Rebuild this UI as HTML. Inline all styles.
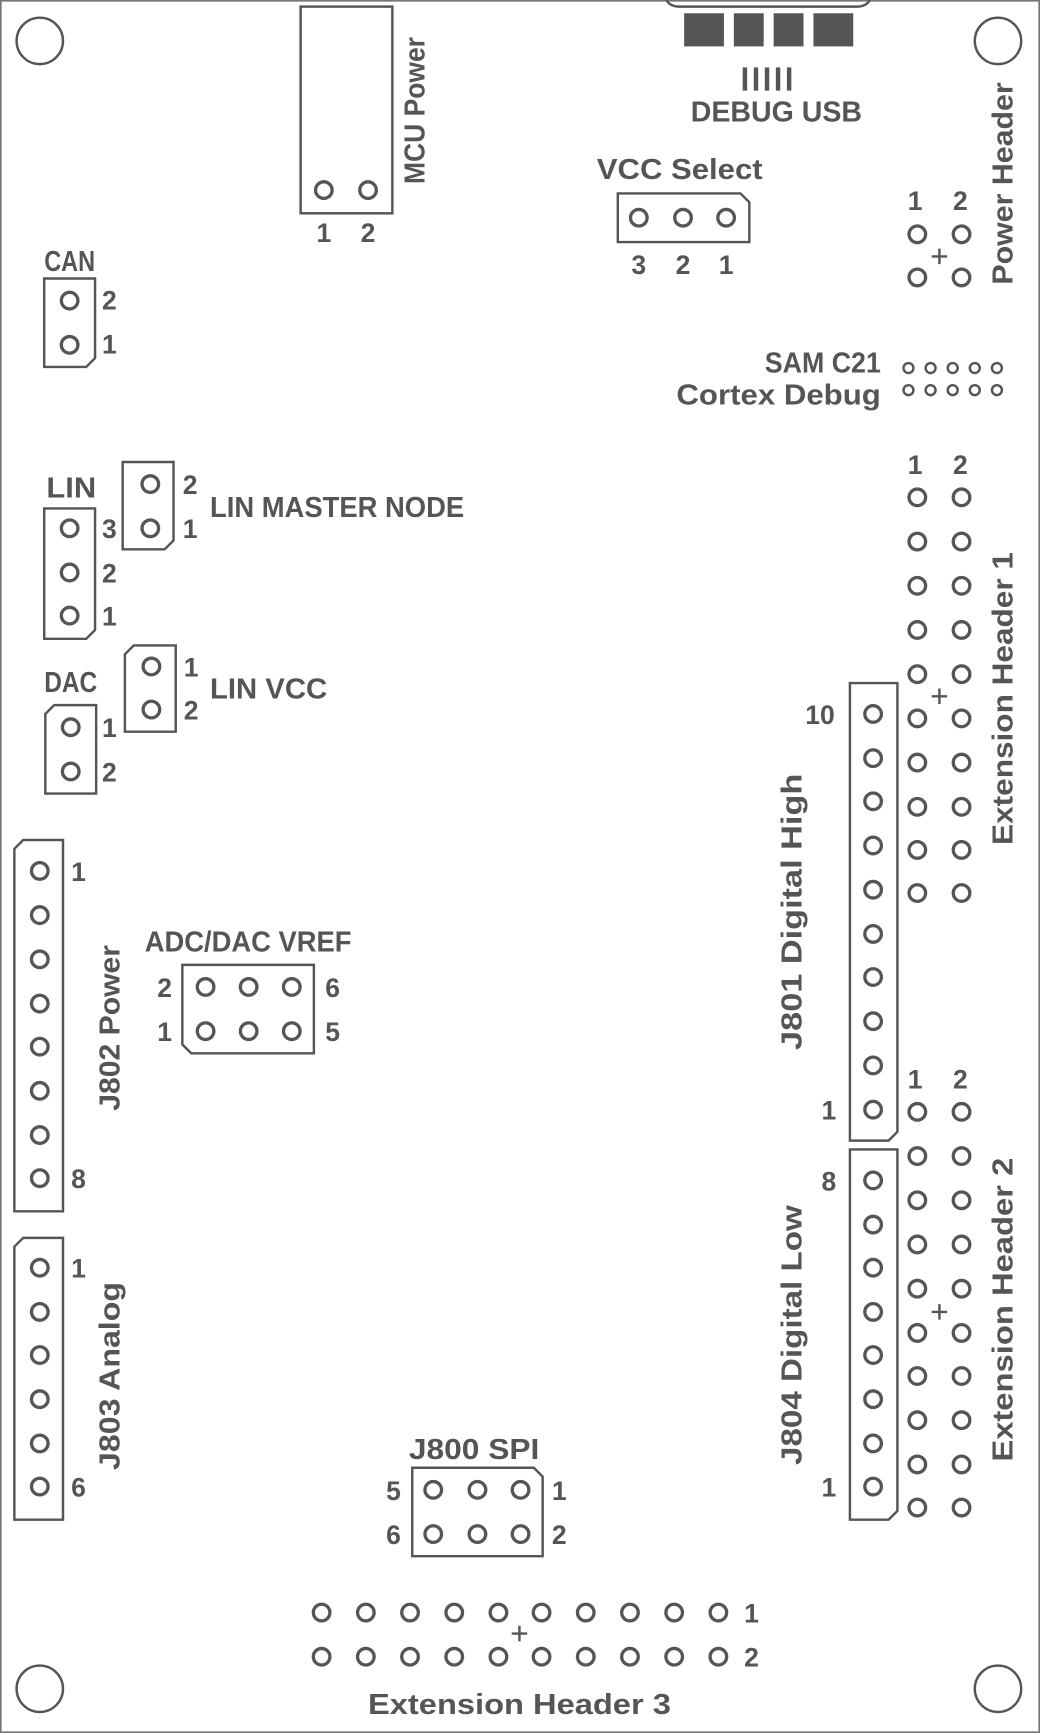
<!DOCTYPE html>
<html><head><meta charset="utf-8"><style>
html,body{margin:0;padding:0;background:#fff;}
svg{display:block;}
text{font-family:"Liberation Sans",sans-serif;font-weight:bold;fill:#555;font-size:26px;}
g.d text{font-size:24px;}
.p{fill:none;stroke:#555;stroke-width:3;}
.b{fill:none;stroke:#555;stroke-width:2.2;}
.sp{fill:none;stroke:#555;stroke-width:2.2;}
</style></head><body>
<svg width="1040" height="1733" viewBox="0 0 941 1568" preserveAspectRatio="none" xmlns="http://www.w3.org/2000/svg">
<rect x="0.5" y="0.5" width="940" height="1567" fill="#fff" stroke="#777" stroke-width="2"/>
<g class="b">
<circle cx="36" cy="37" r="21"/><circle cx="903" cy="37" r="21"/>
<circle cx="36" cy="1528" r="21"/><circle cx="903" cy="1528" r="21"/>
<path d="M603,0 Q606,6 615,6 H775 Q784,6 787,0"/>
<rect x="272" y="6" width="83" height="187"/>
<path d="M40,252 H86 V324 L78,332 H40 Z"/>
<path d="M40,460 H86 V570 L78,578 H40 Z"/>
<path d="M111,418 H157 V489 L149,497 H111 Z"/>
<path d="M121,584 H159 V662 H113 V592 Z"/>
<path d="M49,638 H87 V718 H41 V646 Z"/>
<path d="M559,175 H670 L678,183 V219 H559 Z"/>
<path d="M769,618 H812 V1024 L804,1032 H769 Z"/>
<path d="M769,1040 H812 V1367 L804,1375 H769 Z"/>
<path d="M21,760 H57 V1096 H13 V768 Z"/>
<path d="M21,1120 H57 V1375 H13 V1128 Z"/>
<path d="M165,873 H284 V953 H173 L165,945 Z"/>
<path d="M373,1328 H483 L491,1336 V1408 H373 Z"/>
<path d="M843,232 H857 M850,225 V239"/>
<path d="M843,630 H857 M850,623 V637"/>
<path d="M843,1187 H857 M850,1180 V1194"/>
<path d="M463,1478 H477 M470,1471 V1485"/>
</g>
<g fill="#555">
<rect x="619" y="12" width="36" height="30"/><rect x="664" y="12" width="27" height="30"/>
<rect x="700" y="12" width="27" height="30"/><rect x="736" y="12" width="36" height="30"/>
<rect x="672" y="61" width="4" height="21"/><rect x="682" y="61" width="4" height="21"/>
<rect x="692" y="61" width="4" height="21"/><rect x="702" y="61" width="4" height="21"/>
<rect x="712" y="61" width="4" height="21"/>
</g>
<g class="p">
<circle cx="293" cy="172" r="7.5"/><circle cx="333" cy="172" r="7.5"/>
<circle cx="63" cy="272" r="7.5"/><circle cx="63" cy="312" r="7.5"/>
<circle cx="578" cy="197" r="7.5"/><circle cx="618" cy="197" r="7.5"/><circle cx="657" cy="197" r="7.5"/>
<circle cx="830" cy="212" r="7.5"/><circle cx="870" cy="212" r="7.5"/><circle cx="830" cy="251" r="7.5"/><circle cx="870" cy="251" r="7.5"/>
<circle cx="63" cy="478" r="7.5"/><circle cx="63" cy="518" r="7.5"/><circle cx="63" cy="557" r="7.5"/>
<circle cx="136" cy="438" r="7.5"/><circle cx="136" cy="478" r="7.5"/>
<circle cx="137" cy="603" r="7.5"/><circle cx="137" cy="642" r="7.5"/>
<circle cx="64" cy="658" r="7.5"/><circle cx="64" cy="698" r="7.5"/>
<circle cx="186" cy="893" r="7.5"/><circle cx="225" cy="893" r="7.5"/><circle cx="264" cy="893" r="7.5"/>
<circle cx="186" cy="933" r="7.5"/><circle cx="225" cy="933" r="7.5"/><circle cx="264" cy="933" r="7.5"/>
<circle cx="392" cy="1348" r="7.5"/><circle cx="432" cy="1348" r="7.5"/><circle cx="471" cy="1348" r="7.5"/>
<circle cx="392" cy="1388" r="7.5"/><circle cx="432" cy="1388" r="7.5"/><circle cx="471" cy="1388" r="7.5"/>
<circle cx="36" cy="788" r="7.5"/><circle cx="36" cy="828" r="7.5"/><circle cx="36" cy="868" r="7.5"/><circle cx="36" cy="908" r="7.5"/>
<circle cx="36" cy="947" r="7.5"/><circle cx="36" cy="987" r="7.5"/><circle cx="36" cy="1027" r="7.5"/><circle cx="36" cy="1066" r="7.5"/>
<circle cx="36" cy="1147" r="7.5"/><circle cx="36" cy="1187" r="7.5"/><circle cx="36" cy="1226" r="7.5"/>
<circle cx="36" cy="1266" r="7.5"/><circle cx="36" cy="1306" r="7.5"/><circle cx="36" cy="1345" r="7.5"/>
<circle cx="790" cy="646" r="7.5"/><circle cx="790" cy="686" r="7.5"/><circle cx="790" cy="725" r="7.5"/><circle cx="790" cy="765" r="7.5"/><circle cx="790" cy="805" r="7.5"/>
<circle cx="790" cy="845" r="7.5"/><circle cx="790" cy="884" r="7.5"/><circle cx="790" cy="924" r="7.5"/><circle cx="790" cy="964" r="7.5"/><circle cx="790" cy="1004" r="7.5"/>
<circle cx="790" cy="1068" r="7.5"/><circle cx="790" cy="1108" r="7.5"/><circle cx="790" cy="1147" r="7.5"/><circle cx="790" cy="1187" r="7.5"/>
<circle cx="790" cy="1226" r="7.5"/><circle cx="790" cy="1266" r="7.5"/><circle cx="790" cy="1306" r="7.5"/><circle cx="790" cy="1345" r="7.5"/>
<circle cx="830" cy="450" r="7.5"/><circle cx="870" cy="450" r="7.5"/><circle cx="830" cy="490" r="7.5"/><circle cx="870" cy="490" r="7.5"/>
<circle cx="830" cy="530" r="7.5"/><circle cx="870" cy="530" r="7.5"/><circle cx="830" cy="570" r="7.5"/><circle cx="870" cy="570" r="7.5"/>
<circle cx="830" cy="610" r="7.5"/><circle cx="870" cy="610" r="7.5"/><circle cx="830" cy="650" r="7.5"/><circle cx="870" cy="650" r="7.5"/>
<circle cx="830" cy="690" r="7.5"/><circle cx="870" cy="690" r="7.5"/><circle cx="830" cy="730" r="7.5"/><circle cx="870" cy="730" r="7.5"/>
<circle cx="830" cy="769" r="7.5"/><circle cx="870" cy="769" r="7.5"/><circle cx="830" cy="808" r="7.5"/><circle cx="870" cy="808" r="7.5"/>
<circle cx="830" cy="1006" r="7.5"/><circle cx="870" cy="1006" r="7.5"/><circle cx="830" cy="1046" r="7.5"/><circle cx="870" cy="1046" r="7.5"/>
<circle cx="830" cy="1086" r="7.5"/><circle cx="870" cy="1086" r="7.5"/><circle cx="830" cy="1126" r="7.5"/><circle cx="870" cy="1126" r="7.5"/>
<circle cx="830" cy="1166" r="7.5"/><circle cx="870" cy="1166" r="7.5"/><circle cx="830" cy="1206" r="7.5"/><circle cx="870" cy="1206" r="7.5"/>
<circle cx="830" cy="1245" r="7.5"/><circle cx="870" cy="1245" r="7.5"/><circle cx="830" cy="1285" r="7.5"/><circle cx="870" cy="1285" r="7.5"/>
<circle cx="830" cy="1325" r="7.5"/><circle cx="870" cy="1325" r="7.5"/><circle cx="830" cy="1364" r="7.5"/><circle cx="870" cy="1364" r="7.5"/>
<circle cx="291" cy="1459" r="7.5"/><circle cx="331" cy="1459" r="7.5"/><circle cx="371" cy="1459" r="7.5"/><circle cx="411" cy="1459" r="7.5"/><circle cx="451" cy="1459" r="7.5"/>
<circle cx="490" cy="1459" r="7.5"/><circle cx="530" cy="1459" r="7.5"/><circle cx="570" cy="1459" r="7.5"/><circle cx="610" cy="1459" r="7.5"/><circle cx="650" cy="1459" r="7.5"/>
<circle cx="291" cy="1499" r="7.5"/><circle cx="331" cy="1499" r="7.5"/><circle cx="371" cy="1499" r="7.5"/><circle cx="411" cy="1499" r="7.5"/><circle cx="451" cy="1499" r="7.5"/>
<circle cx="490" cy="1499" r="7.5"/><circle cx="530" cy="1499" r="7.5"/><circle cx="570" cy="1499" r="7.5"/><circle cx="610" cy="1499" r="7.5"/><circle cx="650" cy="1499" r="7.5"/>
</g>
<g class="sp" stroke-width="2.4">
<circle cx="822" cy="333" r="4.5"/><circle cx="842" cy="333" r="4.5"/><circle cx="862" cy="333" r="4.5"/><circle cx="882" cy="333" r="4.5"/><circle cx="902" cy="333" r="4.5"/>
<circle cx="822" cy="353" r="4.5"/><circle cx="842" cy="353" r="4.5"/><circle cx="862" cy="353" r="4.5"/><circle cx="882" cy="353" r="4.5"/><circle cx="902" cy="353" r="4.5"/>
</g>
<text x="625" y="110" textLength="155" lengthAdjust="spacingAndGlyphs">DEBUG USB</text>
<text x="540" y="162" textLength="150" lengthAdjust="spacingAndGlyphs">VCC Select</text>
<text x="40" y="245" textLength="46" lengthAdjust="spacingAndGlyphs">CAN</text>
<text x="692" y="337" textLength="105" lengthAdjust="spacingAndGlyphs">SAM C21</text>
<text x="612" y="366" textLength="185" lengthAdjust="spacingAndGlyphs">Cortex Debug</text>
<text x="42" y="450" textLength="45" lengthAdjust="spacingAndGlyphs">LIN</text>
<text x="190" y="468" textLength="230" lengthAdjust="spacingAndGlyphs">LIN MASTER NODE</text>
<text x="40" y="626" textLength="48" lengthAdjust="spacingAndGlyphs">DAC</text>
<text x="190" y="632" textLength="106" lengthAdjust="spacingAndGlyphs">LIN VCC</text>
<text x="131" y="861" textLength="187" lengthAdjust="spacingAndGlyphs">ADC/DAC VREF</text>
<text x="370" y="1320" textLength="118" lengthAdjust="spacingAndGlyphs">J800 SPI</text>
<text x="333" y="1551" textLength="274" lengthAdjust="spacingAndGlyphs">Extension Header 3</text>
<text transform="translate(384,100) rotate(-90)" text-anchor="middle" textLength="133" lengthAdjust="spacingAndGlyphs">MCU Power</text>
<text transform="translate(916,166) rotate(-90)" text-anchor="middle" textLength="183" lengthAdjust="spacingAndGlyphs">Power Header</text>
<text transform="translate(916,632) rotate(-90)" text-anchor="middle" textLength="265" lengthAdjust="spacingAndGlyphs">Extension Header 1</text>
<text transform="translate(916,1185) rotate(-90)" text-anchor="middle" textLength="275" lengthAdjust="spacingAndGlyphs">Extension Header 2</text>
<text transform="translate(725,825) rotate(-90)" text-anchor="middle" textLength="250" lengthAdjust="spacingAndGlyphs">J801 Digital High</text>
<text transform="translate(725,1208) rotate(-90)" text-anchor="middle" textLength="235" lengthAdjust="spacingAndGlyphs">J804 Digital Low</text>
<text transform="translate(108,930) rotate(-90)" text-anchor="middle" textLength="150" lengthAdjust="spacingAndGlyphs">J802 Power</text>
<text transform="translate(108,1245) rotate(-90)" text-anchor="middle" textLength="170" lengthAdjust="spacingAndGlyphs">J803 Analog</text>
<g class="d" text-anchor="middle">
<text x="293" y="219">1</text><text x="333" y="219">2</text>
<text x="578" y="248">3</text><text x="618" y="248">2</text><text x="657" y="248">1</text>
<text x="828" y="190">1</text><text x="869" y="190">2</text>
<text x="828" y="429">1</text><text x="869" y="429">2</text>
<text x="828" y="985">1</text><text x="869" y="985">2</text>
<text x="99" y="280">2</text><text x="99" y="320">1</text>
<text x="99" y="487">3</text><text x="99" y="527">2</text><text x="99" y="566">1</text>
<text x="172" y="447">2</text><text x="172" y="487">1</text>
<text x="173" y="612">1</text><text x="173" y="651">2</text>
<text x="99" y="667">1</text><text x="99" y="707">2</text>
<text x="71" y="797">1</text><text x="71" y="1075">8</text>
<text x="71" y="1156">1</text><text x="71" y="1354">6</text>
<text x="149" y="902">2</text><text x="149" y="942">1</text>
<text x="301" y="902">6</text><text x="301" y="942">5</text>
<text x="356" y="1357">5</text><text x="356" y="1397">6</text>
<text x="506" y="1357">1</text><text x="506" y="1397">2</text>
<text x="742" y="655">10</text><text x="750" y="1013">1</text>
<text x="750" y="1077">8</text><text x="750" y="1354">1</text>
<text x="680" y="1468">1</text><text x="680" y="1508">2</text>
</g>
</svg>
</body></html>
